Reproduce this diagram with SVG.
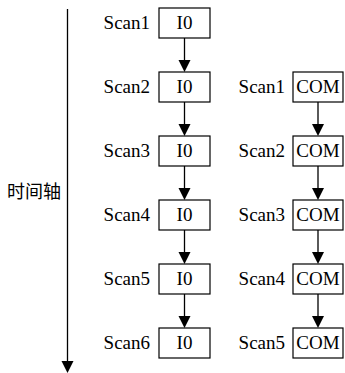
<svg xmlns="http://www.w3.org/2000/svg" width="345" height="373" viewBox="0 0 345 373">
<style>
.box{fill:#fff;stroke:#000;stroke-width:1.2}
.t{font-family:'Liberation Serif','Tinos','Times New Roman',serif;font-size:19px;fill:#000}
.c{text-anchor:middle}
.e{text-anchor:end}
.ln{stroke:#000;stroke-width:1.3;fill:none}
.ah{fill:#000}
.cjk{font-family:'Noto Sans CJK SC',sans-serif;font-size:18px;fill:#000}
</style>
<defs>
<path id="arr" d="M-6,-12 L6,-12 L0,0 Z" class="ah"/>
</defs>
<g id="axis">
<line class="ln" x1="67.5" y1="9" x2="67.5" y2="363"/>
<use href="#arr" x="67.5" y="373"/>
<text class="cjk" x="7" y="198">时间轴</text>
</g>
<g id="connectors">
<line class="ln" x1="184.5" y1="38" x2="184.5" y2="61"/><use href="#arr" x="184.5" y="72"/>
<line class="ln" x1="184.5" y1="102" x2="184.5" y2="125"/><use href="#arr" x="184.5" y="136"/>
<line class="ln" x1="184.5" y1="166" x2="184.5" y2="189"/><use href="#arr" x="184.5" y="200"/>
<line class="ln" x1="184.5" y1="230" x2="184.5" y2="253"/><use href="#arr" x="184.5" y="264"/>
<line class="ln" x1="184.5" y1="294" x2="184.5" y2="317"/><use href="#arr" x="184.5" y="328"/>
<line class="ln" x1="318" y1="102" x2="318" y2="125"/><use href="#arr" x="318" y="136"/>
<line class="ln" x1="318" y1="166" x2="318" y2="189"/><use href="#arr" x="318" y="200"/>
<line class="ln" x1="318" y1="230" x2="318" y2="253"/><use href="#arr" x="318" y="264"/>
<line class="ln" x1="318" y1="294" x2="318" y2="317"/><use href="#arr" x="318" y="328"/>
</g>
<g id="L1"><text class="t e" x="150" y="29">Scan1</text><rect class="box" x="159" y="8" width="51" height="30"/><text class="t c" x="184.5" y="29">I0</text></g>
<g id="L2"><text class="t e" x="150" y="93">Scan2</text><rect class="box" x="159" y="72" width="51" height="30"/><text class="t c" x="184.5" y="93">I0</text></g>
<g id="L3"><text class="t e" x="150" y="157">Scan3</text><rect class="box" x="159" y="136" width="51" height="30"/><text class="t c" x="184.5" y="157">I0</text></g>
<g id="L4"><text class="t e" x="150" y="221">Scan4</text><rect class="box" x="159" y="200" width="51" height="30"/><text class="t c" x="184.5" y="221">I0</text></g>
<g id="L5"><text class="t e" x="150" y="285">Scan5</text><rect class="box" x="159" y="264" width="51" height="30"/><text class="t c" x="184.5" y="285">I0</text></g>
<g id="L6"><text class="t e" x="150" y="349">Scan6</text><rect class="box" x="159" y="328" width="51" height="30"/><text class="t c" x="184.5" y="349">I0</text></g>
<g id="R1"><text class="t e" x="285" y="93">Scan1</text><rect class="box" x="293" y="72" width="50" height="30"/><text class="t c" x="318" y="93">COM</text></g>
<g id="R2"><text class="t e" x="285" y="157">Scan2</text><rect class="box" x="293" y="136" width="50" height="30"/><text class="t c" x="318" y="157">COM</text></g>
<g id="R3"><text class="t e" x="285" y="221">Scan3</text><rect class="box" x="293" y="200" width="50" height="30"/><text class="t c" x="318" y="221">COM</text></g>
<g id="R4"><text class="t e" x="285" y="285">Scan4</text><rect class="box" x="293" y="264" width="50" height="30"/><text class="t c" x="318" y="285">COM</text></g>
<g id="R5"><text class="t e" x="285" y="349">Scan5</text><rect class="box" x="293" y="328" width="50" height="30"/><text class="t c" x="318" y="349">COM</text></g>
</svg>
